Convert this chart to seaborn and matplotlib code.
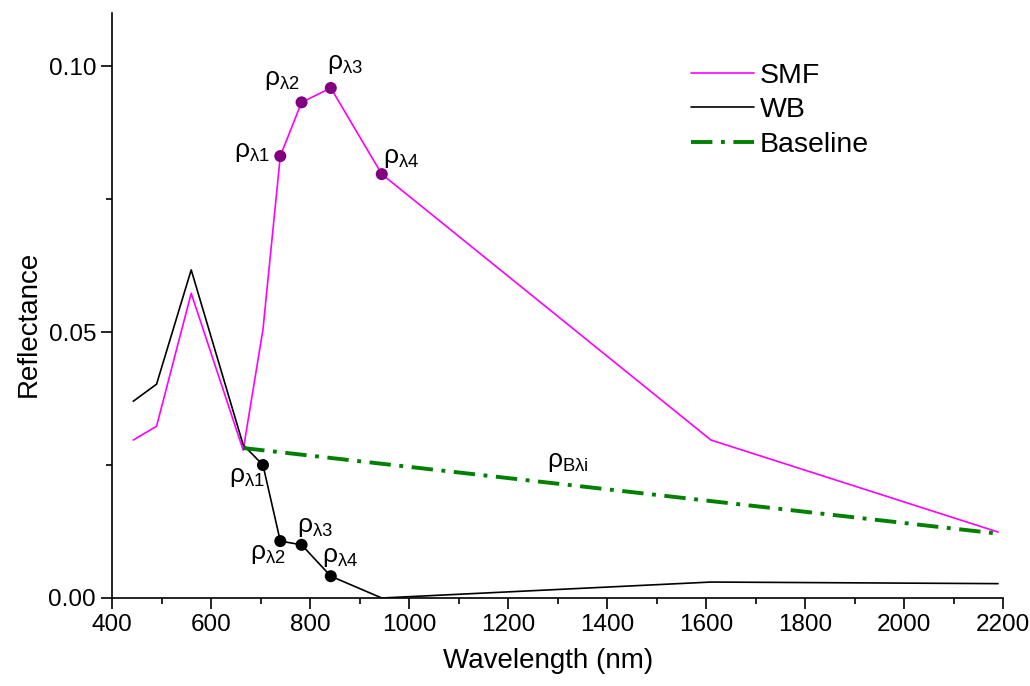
import matplotlib
matplotlib.use("Agg")
import matplotlib.pyplot as plt
import seaborn as sns
import pandas as pd

# ---- data ----
wavelengths = [443, 490, 560, 665, 705, 740, 783, 842, 945, 1610, 2190]
smf_values = [0.0297, 0.0323, 0.0573, 0.0278, 0.0505, 0.0831, 0.0932, 0.0959, 0.0797, 0.0297, 0.0124]
wb_values = [0.0370, 0.0402, 0.0617, 0.0288, 0.0250, 0.0107, 0.0100, 0.0041, 0.0000, 0.0030, 0.0027]
baseline_x = [665, 2190]
baseline_y = [0.0282, 0.0121]

smf_marker_wl = [740, 783, 842, 945]
smf_marker_val = [0.0831, 0.0932, 0.0959, 0.0797]
wb_marker_wl = [705, 740, 783, 842]
wb_marker_val = [0.0250, 0.0107, 0.0100, 0.0041]
marker_labels = ["1", "2", "3", "4"]

x_ticks = [400, 600, 800, 1000, 1200, 1400, 1600, 1800, 2000, 2200]
y_ticks = [0.00, 0.05, 0.10]
y_tick_labels = ["0.00", "0.05", "0.10"]

# ---- style ----
sns.set_style("ticks")
plt.rcParams["font.family"] = ["Liberation Sans", "DejaVu Sans"]
plt.rcParams["mathtext.fontset"] = "custom"
plt.rcParams["mathtext.rm"] = "Liberation Sans"
plt.rcParams["mathtext.it"] = "Liberation Sans"
plt.rcParams["mathtext.default"] = "regular"
for k in ["text.color", "axes.labelcolor", "xtick.color", "ytick.color", "axes.edgecolor"]:
    plt.rcParams[k] = "black"

fig = plt.figure(figsize=(10.30, 6.86), dpi=100)
ax = fig.add_axes([112 / 1030, 1 - 598 / 686, (1003 - 112) / 1030, (598 - 13) / 686])

df_smf = pd.DataFrame({"Wavelength": wavelengths, "Reflectance": smf_values})
df_wb = pd.DataFrame({"Wavelength": wavelengths, "Reflectance": wb_values})
df_base = pd.DataFrame({"Wavelength": baseline_x, "Reflectance": baseline_y})

SMF_C = "#ff00ff"
WB_C = "#000000"
BASE_C = "#008000"

sns.lineplot(data=df_smf, x="Wavelength", y="Reflectance", color=SMF_C, lw=1.2,
             ax=ax, label="SMF", sort=False)
sns.lineplot(data=df_wb, x="Wavelength", y="Reflectance", color=WB_C, lw=1.2,
             ax=ax, label="WB", sort=False)
sns.lineplot(data=df_base, x="Wavelength", y="Reflectance", color=BASE_C, lw=2.8,
             ax=ax, label="Baseline", sort=False, dashes=False)
ax.lines[-1].set_dashes([5.5, 2.2, 1.0, 2.2])

sns.scatterplot(x=smf_marker_wl, y=smf_marker_val, color="#800080", s=75,
                edgecolor="none", ax=ax, zorder=5, legend=False)
sns.scatterplot(x=wb_marker_wl, y=wb_marker_val, color="#000000", s=75,
                edgecolor="none", ax=ax, zorder=5, legend=False)

# labels on markers (offsets in pixels -> points)
smf_offsets = [(-28, 4), (-20, 22), (14, 24), (19, 16)]
wb_offsets = [(-16, -12), (-12, -13), (13, 18), (9, 19)]
for wl, v, lab, off in zip(smf_marker_wl, smf_marker_val, marker_labels, smf_offsets):
    ax.annotate(r"ρ$_{λ" + lab + "}$", (wl, v), xytext=(off[0] * 0.72, off[1] * 0.72),
                textcoords="offset points", ha="center", va="center", fontsize=19)
for wl, v, lab, off in zip(wb_marker_wl, wb_marker_val, marker_labels, wb_offsets):
    ax.annotate(r"ρ$_{λ" + lab + "}$", (wl, v), xytext=(off[0] * 0.72, off[1] * 0.72),
                textcoords="offset points", ha="center", va="center", fontsize=19)
ax.text(1321, 0.0256, r"ρ$_{Bλi}$", ha="center", va="center", fontsize=19)

ax.set_xlim(400, 2200)
ax.set_ylim(0, 0.11)
ax.set_xticks(x_ticks)
ax.set_xticks(range(500, 2200, 200), minor=True)
ax.set_yticks(y_ticks)
ax.set_yticklabels(y_tick_labels)
ax.set_yticks([0.025, 0.075], minor=True)
ax.tick_params(axis="both", which="major", labelsize=17.5, length=8, width=1.2, direction="out")
ax.tick_params(axis="both", which="minor", length=4.5, width=1.2, direction="out")
for s in ["left", "bottom"]:
    ax.spines[s].set_linewidth(1.2)
sns.despine(ax=ax)

ax.set_xlabel("Wavelength (nm)", fontsize=20, labelpad=9)
ax.set_ylabel("Reflectance", fontsize=20, labelpad=5)
ax.xaxis.set_label_coords(0.49, -0.085)
ax.yaxis.label.set_y(0.468)

leg = ax.legend(loc="upper left", bbox_to_anchor=(0.650, 0.915), frameon=False,
                fontsize=20.5, handlelength=2.2, handletextpad=0.2, labelspacing=0.3,
                borderaxespad=0, borderpad=0)

fig.savefig("out.png", dpi=100)
